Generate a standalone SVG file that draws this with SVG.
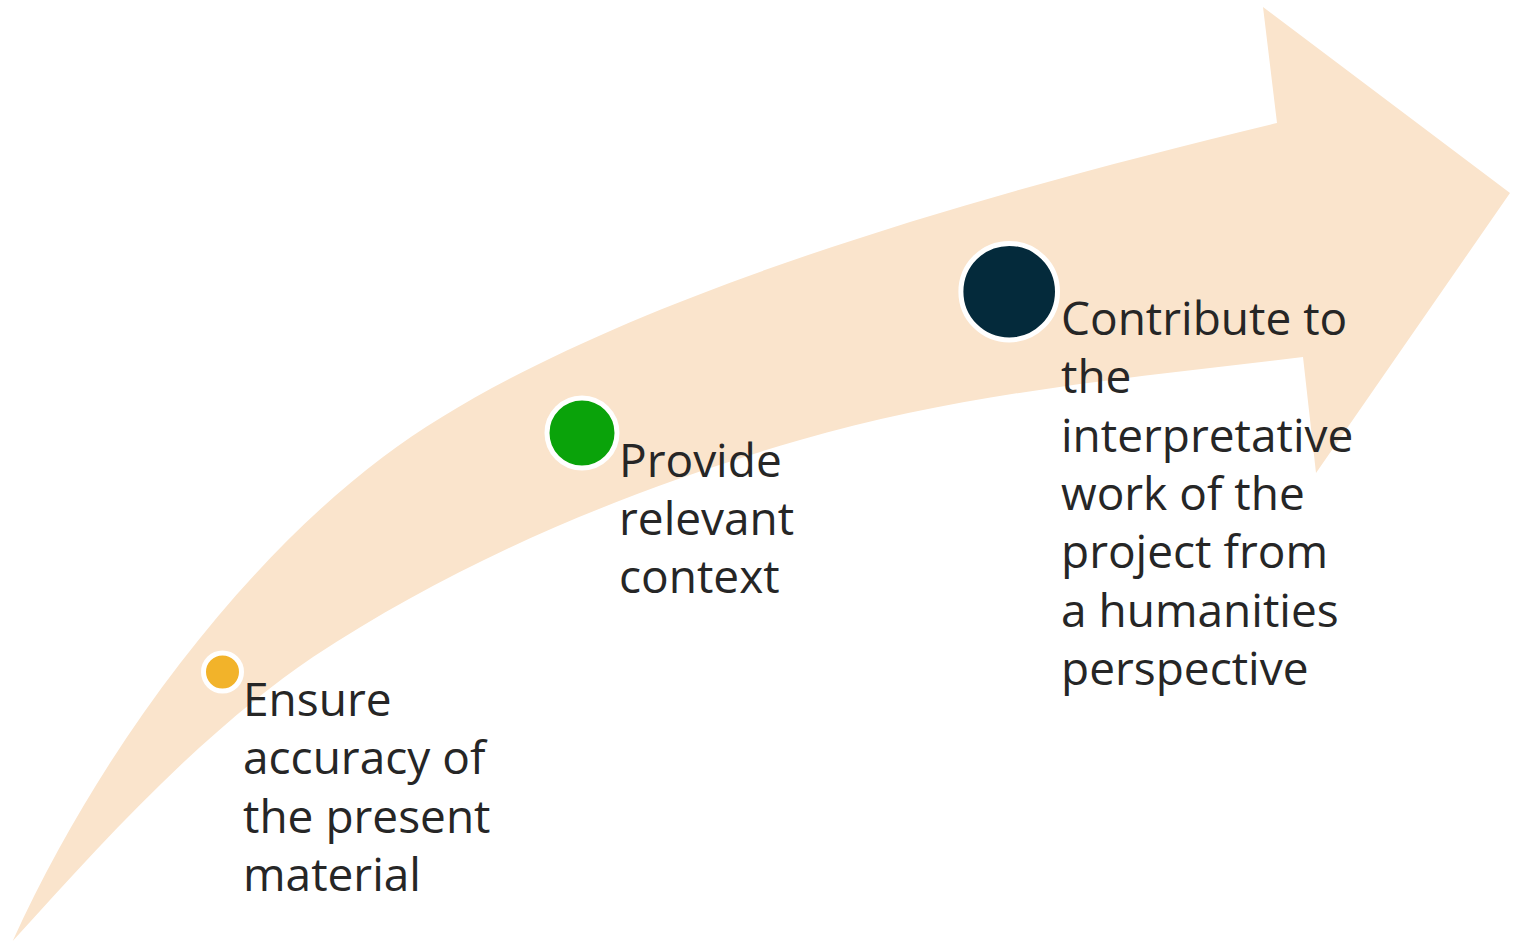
<svg xmlns="http://www.w3.org/2000/svg" width="1513" height="942" viewBox="0 0 1513 942">
  <style>
    .lbl { font-family: "Open Sans", "Liberation Sans", sans-serif; font-size: 46px; fill: #262626; }
    .dot { stroke: #ffffff; stroke-width: 5; }
  </style>
  <rect width="1513" height="942" fill="#ffffff"/>
  <g id="connectors">
    <path id="arrow" fill="#FAE4CC" d="M 12.7,941 C 103.7,740.8 247,559 383,457 C 583,307 967.8,197.2 1277,123 L 1263,7 L 1510,193 L 1316,473 L 1303,357 C 1134.2,377.3 963.3,392.6 800,440 C 629,489.6 461.6,558.9 313,657 C 199,734.6 105.5,839 12.7,941 Z"/>
  </g>
  <g id="node-accuracy">
    <circle class="dot" cx="222.5" cy="672" r="19" fill="#F2B32A" stroke-width="4.6"/>
    <text class="lbl" x="243" y="716">
      <tspan x="243">Ensure</tspan>
      <tspan x="243" dy="58.3">accuracy of</tspan>
      <tspan x="243" dy="58.3">the present</tspan>
      <tspan x="243" dy="58.3">material</tspan>
    </text>
  </g>
  <g id="node-context">
    <circle class="dot" cx="582" cy="433" r="35" fill="#0AA30A"/>
    <text class="lbl" x="619" y="476.7">
      <tspan x="619">Provide</tspan>
      <tspan x="619" dy="58.3">relevant</tspan>
      <tspan x="619" dy="58.3">context</tspan>
    </text>
  </g>
  <g id="node-interpretative">
    <circle class="dot" cx="1009.2" cy="291.7" r="48.3" fill="#042A3B"/>
    <text class="lbl" x="1061" y="335">
      <tspan x="1061">Contribute to</tspan>
      <tspan x="1061" dy="58.3">the</tspan>
      <tspan x="1061" dy="58.3">interpretative</tspan>
      <tspan x="1061" dy="58.3">work of the</tspan>
      <tspan x="1061" dy="58.3">project from</tspan>
      <tspan x="1061" dy="58.3">a humanities</tspan>
      <tspan x="1061" dy="58.3">perspective</tspan>
    </text>
  </g>
</svg>
